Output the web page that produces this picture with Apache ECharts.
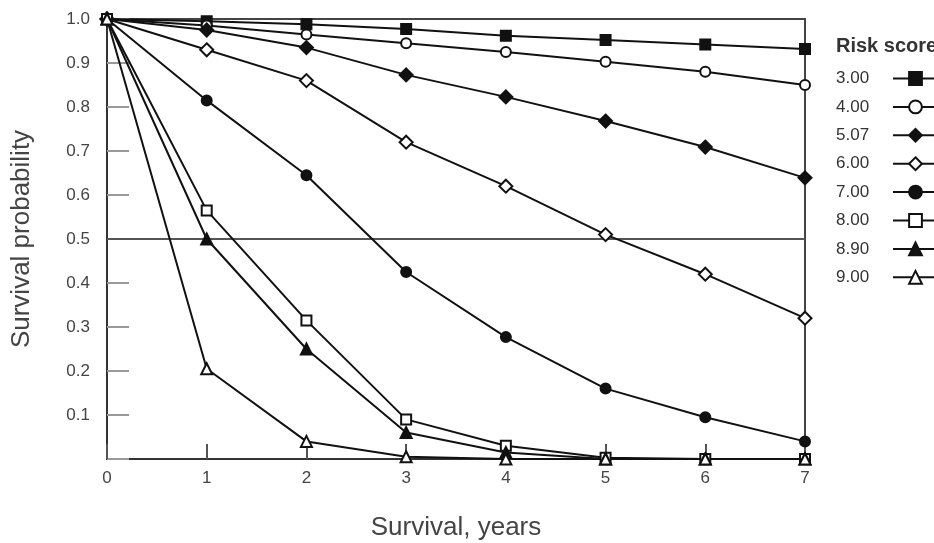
<!DOCTYPE html>
<html>
<head>
<meta charset="utf-8">
<script src="https://cdn.jsdelivr.net/npm/echarts@6/dist/echarts.min.js"></script>
<style>
html,body{margin:0;padding:0;background:#fff;}
#c{width:934px;height:543px;}
</style>
</head>
<body>
<div id="c"></div>
<script>
var years = [0, 1, 2, 3, 4, 5, 6, 7];
var riskScores = ['3.00', '4.00', '5.07', '6.00', '7.00', '8.00', '8.90', '9.00'];
var s300 = [1, 0.995, 0.988, 0.977, 0.962, 0.952, 0.942, 0.932];
var s400 = [1, 0.985, 0.965, 0.945, 0.925, 0.903, 0.88, 0.85];
var s507 = [1, 0.975, 0.935, 0.873, 0.823, 0.768, 0.709, 0.639];
var s600 = [1, 0.93, 0.86, 0.72, 0.62, 0.51, 0.42, 0.32];
var s700 = [1, 0.815, 0.645, 0.425, 0.277, 0.16, 0.095, 0.04];
var s800 = [1, 0.565, 0.315, 0.09, 0.03, 0.003, 0, 0];
var s890 = [1, 0.5, 0.25, 0.06, 0.015, 0, 0, 0];
var s900 = [1, 0.205, 0.04, 0.005, 0, 0, 0, 0];
var yTicks = ['0.1', '0.2', '0.3', '0.4', '0.5', '0.6', '0.7', '0.8', '0.9', '1.0'];
var xTicks = ['0', '1', '2', '3', '4', '5', '6', '7'];

var allSeries = [s300, s400, s507, s600, s700, s800, s890, s900];
var symbols = ['rect', 'emptyCircle', 'diamond', 'emptyDiamond', 'circle', 'emptyRect', 'triangle', 'emptyTriangle'];
var sizes = [10, 10, 13, 13, 10, 10, 11, 11];

var font = 'Liberation Sans, Arial, sans-serif';
var series = allSeries.map(function (vals, i) {
  var s = {
    name: riskScores[i],
    type: 'line',
    data: years.map(function (x, j) { return [x, vals[j]]; }),
    symbol: symbols[i],
    symbolSize: sizes[i],
    showAllSymbol: true,
    lineStyle: { color: '#111', width: 2 },
    itemStyle: { color: '#111', borderColor: '#111', borderWidth: 2 },
    z: 3
  };
  if (i === 0) {
    s.markLine = {
      silent: true,
      symbol: 'none',
      label: { show: false },
      lineStyle: { color: '#555', width: 2, type: 'solid' },
      data: [{ yAxis: 0.5 }],
      z: 1
    };
  }
  return s;
});

var chart = echarts.init(document.getElementById('c'));
chart.setOption({
  animation: false,
  backgroundColor: '#fff',
  title: {
    text: 'Risk score',
    left: 831,
    top: 31,
    textStyle: { fontFamily: font, fontSize: 20, fontWeight: 'bold', color: '#333' }
  },
  legend: {
    orient: 'vertical',
    left: 831,
    top: 65,
    align: 'right',
    itemWidth: 45,
    itemHeight: 16,
    itemGap: 11.4,
    formatter: function (name) { return '{t|' + name + '}'; },
    textStyle: {
      fontFamily: font, fontSize: 17, color: '#333', lineHeight: 16,
      rich: { t: { fontFamily: font, fontSize: 17, color: '#333', width: 52, align: 'left', lineHeight: 16 } }
    },
    data: riskScores
  },
  grid: {
    left: 107,
    right: 129,
    top: 19,
    bottom: 84,
    containLabel: false,
    outerBoundsMode: 'none',
    show: true,
    borderColor: '#444',
    borderWidth: 2,
    backgroundColor: 'transparent'
  },
  xAxis: {
    type: 'value',
    min: 0,
    max: 7,
    interval: 1,
    name: 'Survival, years',
    nameLocation: 'middle',
    nameGap: 56,
    nameTextStyle: { fontFamily: font, fontSize: 26, color: '#444' },
    axisLine: { show: true, lineStyle: { color: '#333', width: 2 } },
    axisTick: { show: true, inside: true, length: 15, lineStyle: { color: '#555', width: 2 } },
    axisLabel: {
      fontFamily: font, fontSize: 17, color: '#444', margin: 11,
      formatter: function (v) { return xTicks[Math.round(v)]; }
    },
    splitLine: { show: false }
  },
  yAxis: {
    type: 'value',
    min: 0,
    max: 1,
    interval: 0.1,
    name: 'Survival probability',
    nameLocation: 'middle',
    nameGap: 72,
    nameTextStyle: { fontFamily: font, fontSize: 26, color: '#444' },
    axisLine: { show: true, lineStyle: { color: '#333', width: 2 } },
    axisTick: { show: true, inside: true, length: 22, lineStyle: { color: '#999', width: 2 } },
    axisLabel: {
      fontFamily: font, fontSize: 17, color: '#444', margin: 17,
      formatter: function (v) {
        var k = Math.round(v * 10);
        return k === 0 ? '' : yTicks[k - 1];
      }
    },
    splitLine: { show: false }
  },
  series: series
});
</script>
</body>
</html>
